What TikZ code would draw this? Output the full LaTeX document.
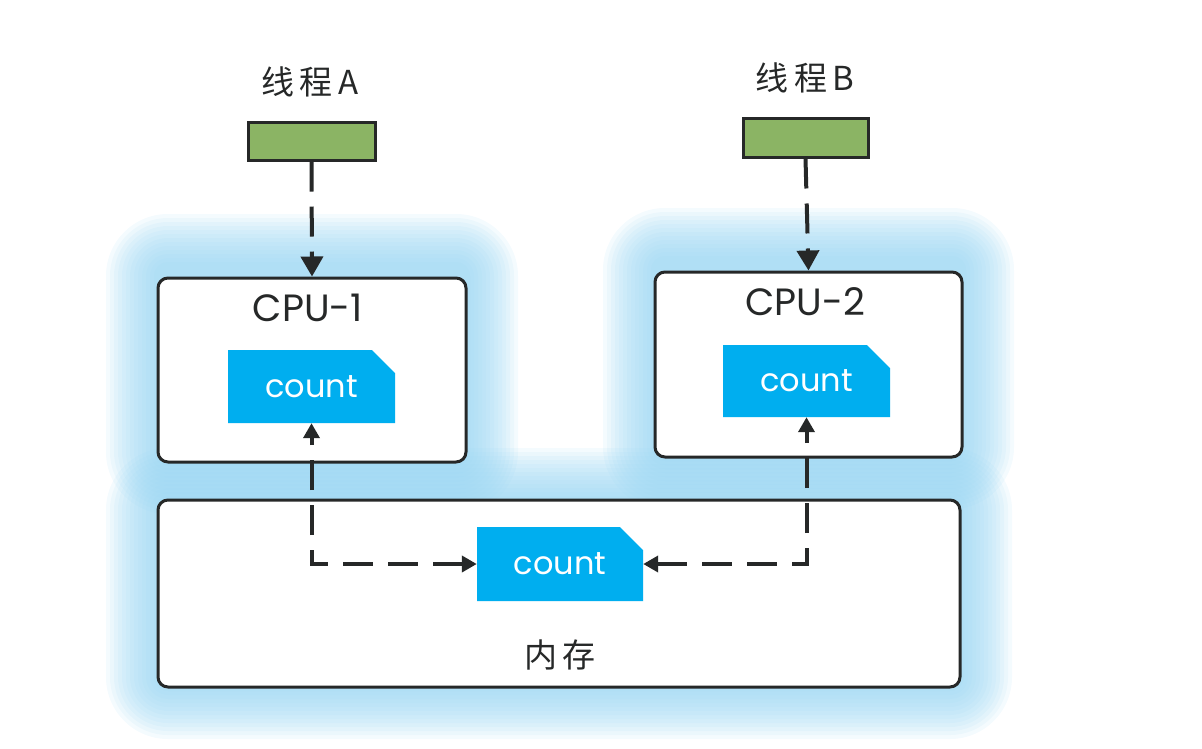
\documentclass[tikz,border=0pt]{standalone}
\usepackage{fontspec}
\setmainfont{Poppins}
\newfontfamily\cjk{Noto Sans CJK SC}
\usetikzlibrary{arrows.meta,shapes.misc}
\definecolor{glow}{RGB}{150,212,242}
\definecolor{cnt}{RGB}{0,174,239}
\definecolor{grn}{RGB}{139,180,100}
\definecolor{ink}{RGB}{38,40,40}
\tikzset{
  box/.style={draw=ink,line width=3pt,rounded corners=10pt,fill=white,inner sep=0pt},
  cntbox/.style={chamfered rectangle,chamfered rectangle corners=north east,
     chamfered rectangle xsep=12pt,chamfered rectangle ysep=12pt,
     fill=cnt,inner sep=0pt,text=white,font=\fontsize{32}{34}\selectfont},
  thread/.style={draw=ink,line width=3pt,fill=grn,inner sep=0pt},
  lbl/.style={text=ink,font=\fontsize{38}{40}\selectfont},
  clbl/.style={text=ink,font=\cjk\fontsize{33}{36}\selectfont},
  dashline/.style={draw=ink,line width=4pt,dash pattern=on 30pt off 15pt},
  bigtip/.style={-{Triangle[length=20pt,width=22pt]}},
  smalltip/.style={{Triangle[length=15pt,width=16pt]}-{Triangle[length=15pt,width=16pt]}},
}
\begin{document}
\begin{tikzpicture}[x=1pt,y=-1pt]
\useasboundingbox (0,0) rectangle (1202,748);
% glow
\foreach \k in {4,8,...,52}{
  \fill[glow,opacity=0.10,rounded corners=\k pt+10pt] (158-\k,278-\k-12) rectangle (466+\k,462+\k);
  \fill[glow,opacity=0.10,rounded corners=\k pt+10pt] (655-\k,272-\k-12) rectangle (962+\k,457+\k);
  \fill[glow,opacity=0.10,rounded corners=\k pt+10pt] (158-\k,500-\k) rectangle (960+\k,687+\k);
}
% boxes
\node[box,minimum width=308pt,minimum height=184pt] (cpu1) at (312,370) {};
\node[box,minimum width=307pt,minimum height=185pt] (cpu2) at (808.5,364.5) {};
\node[box,minimum width=802pt,minimum height=187pt] (mem) at (559,593.5) {};
% labels
\node[lbl] (l1) at (308,308) {CPU-1};
\node[lbl] (l2) at (805,302) {CPU-2};
\node[clbl] (ta) at (310,82) {线\,程\,A};
\node[clbl] (tb) at (805,78) {线\,程\,B};
\node[clbl] (lm) at (560,655) {内\,存};
% thread boxes
\node[thread,minimum width=127pt,minimum height=38pt] (ga) at (311.5,141) {};
\node[thread,minimum width=125pt,minimum height=39pt] (gb) at (805.5,137.5) {};
% count boxes
\node[cntbox,minimum width=167pt,minimum height=73pt] (c1) at (311.5,386.5) {count};
\node[cntbox,minimum width=167pt,minimum height=72pt] (c2) at (806.5,381) {count};
\node[cntbox,minimum width=166pt,minimum height=74pt] (mc) at (560,564) {count};
% connectors
\draw[dashline,bigtip] (ga.south) -- (cpu1.north);
\draw[dashline,bigtip] (gb.south) -- (cpu2.north);
\draw[dashline,smalltip] (mc.west) -| (c1.south);
\draw[dashline,smalltip] (mc.east) -| (c2.south);
\end{tikzpicture}
\end{document}
